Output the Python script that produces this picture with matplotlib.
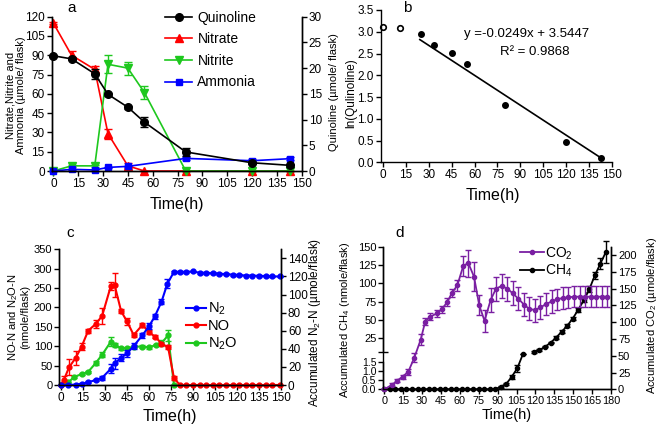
import matplotlib
matplotlib.use("Agg")
import matplotlib.pyplot as plt
import numpy as np

plt.rcParams["font.family"] = ["Liberation Sans", "DejaVu Sans"]
plt.rcParams["mathtext.fontset"] = "custom"
plt.rcParams["mathtext.rm"] = "Liberation Sans"
plt.rcParams["mathtext.it"] = "Liberation Sans:italic"
plt.rcParams["mathtext.default"] = "regular"
plt.rcParams["axes.linewidth"] = 1.0
plt.rcParams["xtick.major.width"] = 1.0
plt.rcParams["ytick.major.width"] = 1.0
plt.rcParams["xtick.major.size"] = 3.5
plt.rcParams["ytick.major.size"] = 3.5
plt.rcParams["xtick.major.pad"] = 1.5
plt.rcParams["ytick.major.pad"] = 1.5

# ---- panel a: quinoline degradation and nitrogen species ----
t_a = [0, 11, 25, 33, 45, 55, 80, 120, 143]
quinoline = [22.4, 21.8, 18.9, 14.9, 12.4, 9.5, 3.7, 1.6, 1.1]
quinoline_err = [0.2, 0.3, 1.0, 0.3, 0.3, 1.0, 0.7, 0.3, 0.3]
nitrate = [115, 90, 79, 29, 4, 0, 0, 0, 0]
nitrate_err = [1, 3, 3, 4, 2, 0, 0, 0, 0]
nitrite = [0, 4, 4, 83, 80, 61, 0, 0, 0]
nitrite_err = [0, 1, 1, 7, 5, 5, 0, 0, 0]
t_ammonia = [0, 11, 25, 33, 45, 80, 120, 143]
ammonia = [0, 1.3, 0.8, 2.8, 3.6, 9.8, 8.0, 9.6]
ammonia_err = [0, 0.5, 0.5, 0.5, 0.5, 1.0, 1.0, 1.0]

# ---- panel b: ln(quinoline) ----
t_b_open = [0, 11]
ln_open = [3.11, 3.08]
t_b = [25, 33, 45, 55, 80, 120, 143]
ln_q = [2.94, 2.70, 2.52, 2.26, 1.31, 0.47, 0.09]
fit_x = [24, 143]
fit_y = [2.82, 0.10]

# ---- panel c: NO, N2O, N2 ----
t_no = [0, 2, 5.5, 10, 14, 18.5, 23.5, 28, 34, 36.5, 41, 45, 49.5, 55.5, 60, 64,
        68.5, 73, 77, 81, 85.5, 90, 94.5, 99, 103.5, 108, 112.5, 117, 121.5, 126,
        130.5, 135, 139.5, 144, 149]
no = [0, 14, 46, 70, 99, 140, 157, 178, 256, 258, 190, 164, 129, 155, 136, 125,
      107, 97, 18, 0, 0, 0, 0, 0, 0, 0, 0, 0, 0, 0, 0, 0, 0, 0, 0]
no_err = [0, 8, 20, 18, 10, 5, 10, 20, 10, 30, 5, 8, 5, 5, 5, 5,
          5, 5, 5, 0, 0, 0, 0, 0, 0, 0, 0, 0, 0, 0, 0, 0, 0, 0, 0]
t_n2o = [0, 5, 9, 14, 18.5, 23.5, 28, 34, 36.5, 41, 45, 50, 55.5, 60, 64.5, 68.5, 73, 77]
n2o = [0, 7, 21, 28, 34, 56, 78, 112, 103, 95, 95, 99, 99, 97, 103, 108, 128, 0]
n2o_err = [0, 2, 3, 3, 3, 5, 6, 12, 5, 4, 4, 3, 3, 3, 3, 8, 15, 0]
t_n2 = [0, 5, 10, 14, 18.5, 23.5, 28, 34, 36.5, 41, 45, 49.5, 55.5, 60, 64, 68.5,
        72.5, 77, 81, 85.5, 90, 94.5, 99, 103.5, 108, 112.5, 117, 121.5, 126, 130.5,
        135, 139.5, 144, 149]
n2 = [0, 0, 0.5, 1.5, 3, 5.5, 8, 18, 24, 30, 35, 43, 55, 65, 76, 92,
      112, 125, 125, 125, 125.5, 124, 124, 123.5, 123, 122.5, 122, 121.5, 121, 121,
      120.5, 120.5, 120, 120]
n2_err = [0, 0, 0.5, 1, 1, 1.5, 2, 5, 6, 4, 4, 3, 3, 3, 3, 3,
          5, 1, 1, 1, 1, 1, 1, 1, 1, 1, 1, 1, 1, 1, 1, 1, 1, 1]

# ---- panel d: CO2 and CH4 ----
t_co2 = [0, 6.4, 10.3, 14.6, 19, 23.8, 28.9, 32.5, 36.3, 41.6, 45.5, 50, 53.5, 58,
         62.7, 66.7, 71.2, 75.4, 79.6, 84.4, 88.7, 93.2, 97.7, 102, 106.4, 111, 115,
         119.6, 124, 128.4, 133, 137, 141.6, 146, 150.6, 155, 159.4, 164, 168.4,
         172.8, 177]
co2 = [0, 7, 13, 19, 26, 47, 74, 101, 108, 113, 119, 130, 143, 155,
       184, 188, 168, 125, 102, 133, 150, 154, 150, 143, 135, 126, 120,
       118, 122, 127, 131, 134, 136, 137, 138, 138, 138, 138, 138, 138, 138]
co2_err = [0, 2, 2, 3, 4, 7, 8, 5, 5, 5, 5, 6, 6, 8,
           15, 20, 21, 15, 16, 18, 18, 18, 18, 18, 17, 17, 17,
           17, 17, 17, 17, 16, 16, 16, 16, 16, 16, 16, 16, 16, 16]
t_ch4 = [0, 4.4, 8.8, 13.2, 17.6, 22, 26.4, 30.8, 35.2, 39.6, 44, 48.4, 52.8, 57.2,
         61.6, 66, 70.4, 74.8, 79.2, 83.6, 88, 92.4, 96.8, 101.2, 105.6, 110, 114.4,
         118.8, 123.2, 127.6, 132, 136.4, 140.8, 145.2, 149.6, 154, 158.4, 162.8,
         167.2, 171.6, 176]
ch4 = [0, 0, 0, 0, 0, 0, 0, 0, 0, 0, 0, 0, 0, 0, 0, 0, 0, 0, 0, 0, 0,
       0.15, 0.3, 0.7, 1.17, 5.5, np.nan, 7, 9, 13.5, 19, 26, 34, 42, 52, 64, 77,
       92, 111, 127, 143]
ch4_err = [0] * 21 + [0.05, 0.05, 0.1, 0.2, 0, 0, 1, 1, 1, 1, 2, 2, 2, 2, 3, 3,
                      4, 5, 7, 15]

RED = "#ff0000"
GREEN = "#1ec81e"
BLUE = "#0000ff"
PURPLE = "#7a1fa2"

W, H = 660, 426
fig = plt.figure(figsize=(W / 100, H / 100), dpi=100)


def px_axes(left, top, right, bottom):
    return fig.add_axes([left / W, 1 - bottom / H, (right - left) / W, (bottom - top) / H])


def style(ax, right=False):
    ax.spines["top"].set_visible(False)
    if not right:
        ax.spines["right"].set_visible(False)
    ax.tick_params(direction="out", labelsize=8.5)


# ================= panel a =================
axa = px_axes(51.7, 16.7, 301.7, 171)
axa2 = axa.twinx()
style(axa, right=True)
style(axa2, right=True)
eb = dict(capsize=3, elinewidth=1, capthick=1, clip_on=False, lw=1.2)
h_no3 = axa.errorbar(t_a, nitrate, yerr=nitrate_err, fmt="-^", color=RED, ms=6, **eb)
h_no2 = axa.errorbar(t_a, nitrite, yerr=nitrite_err, fmt="-v", color=GREEN, ms=6, **eb)
h_nh4 = axa.errorbar(t_ammonia, ammonia, yerr=ammonia_err, fmt="-s", color=BLUE, ms=5, **eb)
h_q = axa2.errorbar(t_a, quinoline, yerr=quinoline_err, fmt="-o", color="black", ms=5.5, **eb)
axa.set_xlim(-1, 150)
axa.set_ylim(0, 120)
axa2.set_ylim(0, 30)
axa.set_xticks(range(0, 151, 15))
axa.set_yticks(range(0, 121, 15))
axa2.set_yticks(range(0, 31, 5))
axa.legend([h_q[0], h_no3[0], h_no2[0], h_nh4[0]],
           ["Quinoline", "Nitrate", "Nitrite", "Ammonia"],
           loc="upper left", bbox_to_anchor=(0.455, 1.04), frameon=False, fontsize=10,
           handlelength=1.9, handletextpad=0.4, labelspacing=0.55, borderpad=0,
           borderaxespad=0)
fig.text(72 / W, 1 - 8 / H, "a", fontsize=11, ha="center", va="center")
fig.text(16 / W, 1 - 95 / H, "Nitrate,Nitrite and\nAmmonia (µmole/ flask)", rotation=90,
         fontsize=8, ha="center", va="center", linespacing=1.0)
fig.text(334 / W, 1 - 92 / H, "Quinoline (µmole/ flask)", rotation=90,
         fontsize=8, ha="center", va="center")
fig.text(177 / W, 1 - 204 / H, "Time(h)", fontsize=11.5, ha="center", va="center")

# ================= panel b =================
axb = px_axes(380.7, 10, 611.7, 162.3)
style(axb)
axb.plot(t_b_open, ln_open, "o", mfc="white", mec="black", mew=1.2, ms=4, clip_on=False)
axb.plot(t_b, ln_q, "o", color="black", ms=4, clip_on=False)
axb.plot(fit_x, fit_y, "-", color="black", lw=1.2)
axb.set_xlim(-1.7, 150)
axb.set_ylim(0, 3.5)
axb.set_xticks(range(0, 151, 15))
axb.set_yticks(np.arange(0, 3.51, 0.5))
axb.set_yticklabels([f"{v:.1f}" for v in np.arange(0, 3.51, 0.5)])
axb.tick_params(labelsize=8.5)
fig.text(527 / W, 1 - 34 / H, "y =-0.0249x + 3.5447", fontsize=9.5, ha="center", va="center")
fig.text(535 / W, 1 - 52 / H, "R² = 0.9868", fontsize=9.5, ha="center", va="center")
fig.text(407 / W, 1 - 8 / H, "b", fontsize=11, ha="center", va="center")
fig.text(351 / W, 1 - 93 / H, "ln(Qulinoline)", rotation=90, fontsize=8.5, ha="center", va="center")
fig.text(493 / W, 1 - 195 / H, "Time(h)", fontsize=11.5, ha="center", va="center")

# ================= panel c =================
axc = px_axes(59.3, 249.3, 281, 385)
axc2 = axc.twinx()
style(axc, right=True)
style(axc2, right=True)
axc.tick_params(labelsize=8)
axc2.tick_params(labelsize=8.5)
ebc = dict(capsize=2.5, elinewidth=1, capthick=1, clip_on=False, lw=1.5, ms=3.5)
h_n2o = axc.errorbar(t_n2o, n2o, yerr=n2o_err, fmt="-o", color=GREEN, **ebc)
h_no = axc.errorbar(t_no, no, yerr=no_err, fmt="-o", color=RED, **ebc)
h_n2 = axc2.errorbar(t_n2, n2, yerr=n2_err, fmt="-o", color=BLUE, **ebc)
axc.set_xlim(-1.2, 150)
axc.set_ylim(0, 350)
axc2.set_ylim(0, 150)
axc.set_xticks(range(0, 151, 15))
axc.set_yticks(range(0, 351, 50))
axc2.set_yticks(range(0, 141, 20))
axc.tick_params(axis="x", labelsize=8.5)
axc.legend([h_n2[0], h_no[0], h_n2o[0]], ["N$_2$", "NO", "N$_2$O"], loc="upper left",
           bbox_to_anchor=(0.57, 0.62), frameon=False, fontsize=10.5,
           handlelength=1.4, handletextpad=0.1, labelspacing=0.15, borderpad=0,
           borderaxespad=0)
fig.text(70 / W, 1 - 233 / H, "c", fontsize=11, ha="center", va="center")
fig.text(18 / W, 1 - 317 / H, "NO-N and N$_2$O-N\n(nmole/flask)", rotation=90,
         fontsize=8, ha="center", va="center", linespacing=1.05)
fig.text(315 / W, 1 - 322 / H, "Accumulated N$_2$-N (µmole/flask)", rotation=90,
         fontsize=8.5, ha="center", va="center")
fig.text(170 / W, 1 - 417 / H, "Time(h)", fontsize=11.5, ha="center", va="center")

# ================= panel d =================
axd = px_axes(383.3, 246.7, 611, 389.3)
# broken left axis: 0-1.5 lower part, 6.8-150 upper part, compressed gap between
seg_v = [-1000, 0, 1.5, 6.8, 150, 1150]
seg_h = [-18000, 0, 27, 37.65, 142.7, 142.7 + 1000 * 0.7336]


def fwd(v):
    return np.interp(v, seg_v, seg_h)


def inv(h):
    return np.interp(h, seg_h, seg_v)


axd.set_yscale("function", functions=(fwd, inv))
axd2 = axd.twinx()
style(axd, right=True)
style(axd2, right=True)
ebd = dict(capsize=2, elinewidth=1, capthick=1, clip_on=False, lw=1.3, ms=3)
h_ch4 = axd.errorbar(t_ch4, ch4, yerr=ch4_err, fmt="-o", color="black", **ebd)
h_co2 = axd2.errorbar(t_co2, co2, yerr=co2_err, fmt="-o", color=PURPLE, **ebd)
axd.set_xlim(-0.8, 180)
axd.set_ylim(0, 150)
axd2.set_ylim(0, 212.5)
axd.set_xticks(range(0, 181, 15))
left_ticks = [0, 0.5, 1.0, 1.5, 25, 50, 75, 100, 125, 150]
left_labels = ["0.0", "0.5", "1.0", "1.5", "25", "50", "75", "100", "125", "150"]
axd.set_yticks(left_ticks)
axd.set_yticklabels(left_labels)
axd.set_yticks([1.5, 6.8], minor=True)
axd.tick_params(axis="y", which="minor", direction="inout", length=7, width=1)
axd.spines["left"].set_bounds(0, 1.5)
axd.plot([0, 0], [6.8, 150], transform=axd.get_yaxis_transform(), color="black",
         lw=1.0, clip_on=False)
axd2.set_yticks(range(0, 201, 25))
axd.tick_params(labelsize=8)
axd.tick_params(axis="x", labelsize=7.8)
axd2.tick_params(labelsize=8)
for lab in axd.get_yticklabels()[:4]:
    lab.set_fontsize(7.5)
axd.legend([h_co2[0], h_ch4[0]], ["CO$_2$", "CH$_4$"], loc="upper left",
           bbox_to_anchor=(0.6, 1.01), frameon=False, fontsize=10,
           handlelength=1.7, handletextpad=0.1, labelspacing=0.05, borderpad=0,
           borderaxespad=0)
fig.text(400 / W, 1 - 233 / H, "d", fontsize=11, ha="center", va="center")
fig.text(345 / W, 1 - 320 / H, "Accumulated CH$_4$ (nmole/flask)", rotation=90,
         fontsize=8, ha="center", va="center")
fig.text(652 / W, 1 - 315 / H, "Accumulated CO$_2$ (µmole/flask)", rotation=90,
         fontsize=8, ha="center", va="center")
fig.text(507 / W, 1 - 415 / H, "Time(h)", fontsize=10.5, ha="center", va="center")

fig.savefig("out.png", dpi=100)
